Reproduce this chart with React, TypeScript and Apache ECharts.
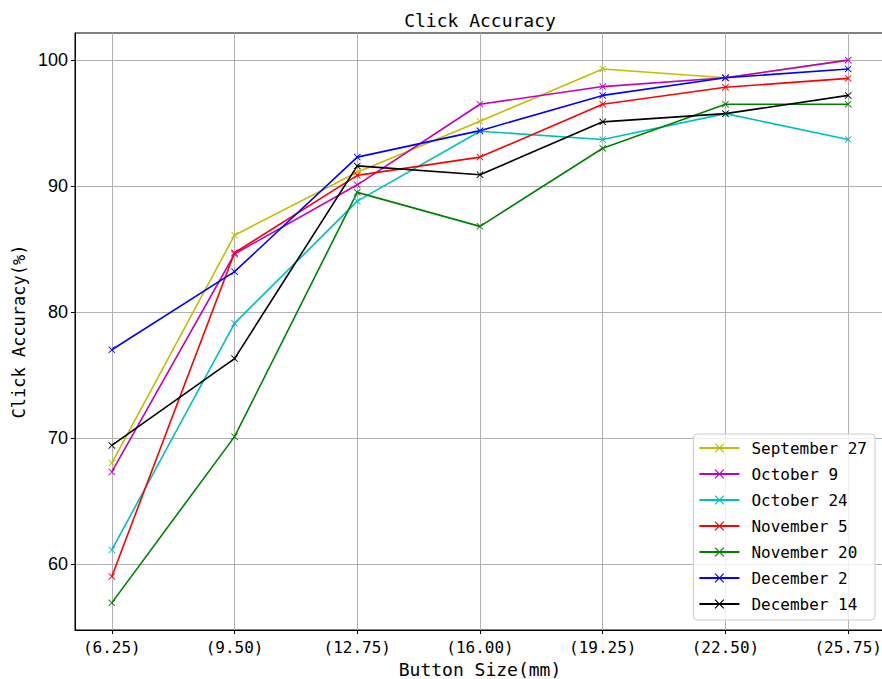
import React, { useEffect, useRef } from "react";
import * as echarts from "echarts";

const categories = ["(6.25)", "(9.50)", "(12.75)", "(16.00)", "(19.25)", "(22.50)", "(25.75)"];
const yTicks = [60, 70, 80, 90, 100];

const sep27 = [68.0, 86.1, 91.1, 95.15, 99.3, 98.6, 100.0];
const oct9 = [67.3, 84.6, 90.1, 96.5, 97.9, 98.6, 100.0];
const oct24 = [61.1, 79.1, 88.8, 94.35, 93.7, 95.75, 93.7];
const nov5 = [59.0, 84.7, 90.85, 92.3, 96.5, 97.85, 98.55];
const nov20 = [56.9, 70.1, 89.5, 86.8, 93.0, 96.5, 96.5];
const dec2 = [77.0, 83.2, 92.3, 94.4, 97.2, 98.6, 99.3];
const dec14 = [69.4, 76.3, 91.6, 90.9, 95.1, 95.75, 97.2];

const seriesNames = ["September 27", "October 9", "October 24", "November 5", "November 20", "December 2", "December 14"];
const seriesValues = [sep27, oct9, oct24, nov5, nov20, dec2, dec14];
const seriesColors = ["#bfbf00", "#bf00bf", "#00bfbf", "#ff0000", "#008000", "#0000ff", "#000000"];

const X_SYMBOL =
  "path://M0,0.9 L0.9,0 L5,4.1 L9.1,0 L10,0.9 L5.9,5 L10,9.1 L9.1,10 L5,5.9 L0.9,10 L0,9.1 L4.1,5 Z";

const MONO = "DejaVu Sans Mono";

export default function App() {
  const ref = useRef<HTMLDivElement>(null);
  useEffect(() => {
    if (!ref.current) return;
    const chart = echarts.init(ref.current, null, { renderer: "svg" });
    const gridLeft = 75;
    const gridTop = 33;
    const gridWidth = 810;
    const gridHeight = 597;
    chart.setOption({
      animation: false,
      backgroundColor: "#ffffff",
      graphic: [
        {
          type: "text",
          x: gridLeft + gridWidth / 2,
          y: 20,
          style: {
            text: "Click Accuracy",
            fontFamily: MONO,
            fontSize: 18,
            fill: "#000",
            textAlign: "center",
            textVerticalAlign: "middle",
          },
        },
      ],
      grid: {
        left: gridLeft,
        top: gridTop,
        width: gridWidth,
        height: gridHeight,
        show: true,
        borderColor: "#000",
        borderWidth: 1,
        containLabel: false,
        outerBoundsMode: "none",
      },
      legend: {
        orient: "vertical",
        right: 7,
        bottom: 59,
        data: seriesNames,
        itemWidth: 40,
        itemHeight: 12,
        itemGap: 10,
        padding: [6, 8, 8, 5],
        backgroundColor: "rgba(255,255,255,0.8)",
        borderColor: "#cccccc",
        borderWidth: 1,
        borderRadius: 4,
        textStyle: {
          fontFamily: MONO,
          fontSize: 16,
          color: "#000",
          padding: [0, 0, 0, 7],
        },
      },
      xAxis: {
        type: "value",
        min: -0.3,
        max: 6.3,
        name: "Button Size(mm)",
        nameLocation: "middle",
        nameGap: 30,
        nameTextStyle: { fontFamily: MONO, fontSize: 18, color: "#000" },
        axisLine: { show: true, onZero: false, lineStyle: { color: "#000", width: 1 } },
        axisTick: {
          show: true,
          inside: false,
          length: 4,
          customValues: categories.map((_, i) => i),
          lineStyle: { color: "#000" },
        },
        axisLabel: {
          customValues: categories.map((_, i) => i),
          formatter: (v: number) => categories[Math.round(v)] ?? "",
          fontFamily: MONO,
          fontSize: 16,
          color: "#000",
          margin: 9,
        },
        splitLine: { show: true, lineStyle: { color: "#b0b0b0", width: 1 } },
      },
      yAxis: {
        type: "value",
        min: 54.745,
        max: 102.155,
        name: "Click Accuracy(%)",
        nameLocation: "middle",
        nameGap: 42,
        nameTextStyle: { fontFamily: MONO, fontSize: 17, color: "#000" },
        axisLine: { show: true, onZero: false, lineStyle: { color: "#000", width: 1 } },
        axisTick: {
          show: true,
          inside: false,
          length: 4,
          customValues: yTicks,
          lineStyle: { color: "#000" },
        },
        axisLabel: {
          customValues: yTicks,
          fontFamily: "Liberation Sans",
          fontSize: 18,
          color: "#000",
          margin: 7,
        },
        splitLine: { show: true, lineStyle: { color: "#b0b0b0", width: 1 } },
      },
      series: seriesNames.map((name, s) => ({
        name,
        type: "line",
        data: seriesValues[s].map((v, i) => [i, v]),
        symbol: X_SYMBOL,
        symbolSize: 7,
        showSymbol: true,
        lineStyle: { color: seriesColors[s], width: 1.6 },
        itemStyle: { color: seriesColors[s] },
        emphasis: { disabled: true },
      })),
    });
    return () => chart.dispose();
  }, []);
  return (
    <div
      ref={ref}
      style={{ position: "fixed", left: 0, top: 0, width: 882, height: 679, overflow: "hidden" }}
    />
  );
}
